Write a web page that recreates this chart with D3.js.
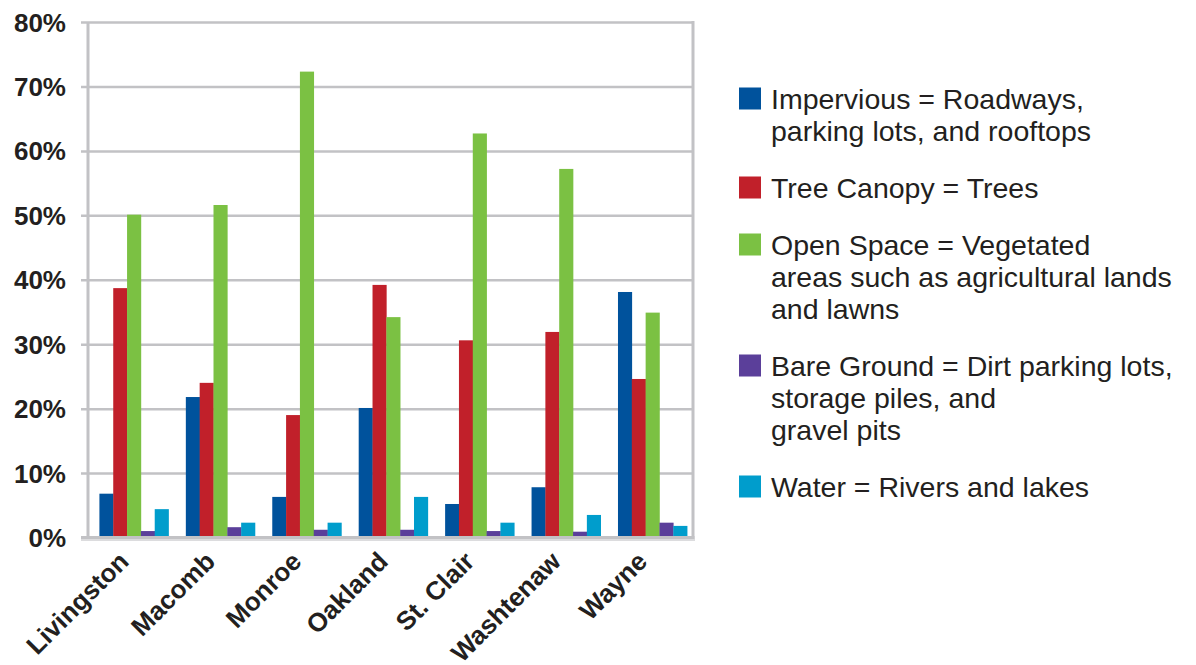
<!DOCTYPE html>
<html>
<head>
<meta charset="utf-8">
<script src="https://cdn.jsdelivr.net/npm/d3@7/dist/d3.min.js"></script>
<style>
  html, body { margin: 0; padding: 0; background: #fff; }
  svg { display: block; }
  text { font-family: "Liberation Sans", Arial, sans-serif; fill: #231f20; }
</style>
</head>
<body>
<svg id="chart" width="1196" height="665"></svg>
<script>
// Land cover share by county (fraction of county area)
const counties = ["Livingston", "Macomb", "Monroe", "Oakland", "St. Clair", "Washtenaw", "Wayne"];
const seriesKeys = ["impervious", "treeCanopy", "openSpace", "bareGround", "water"];
const impervious = [0.068, 0.218, 0.063, 0.201, 0.052, 0.078, 0.381];
const treeCanopy = [0.387, 0.240, 0.190, 0.392, 0.306, 0.319, 0.246];
const openSpace  = [0.501, 0.516, 0.723, 0.342, 0.627, 0.572, 0.349];
const bareGround = [0.010, 0.016, 0.012, 0.012, 0.010, 0.009, 0.023];
const water      = [0.044, 0.023, 0.023, 0.063, 0.023, 0.035, 0.018];
const yTicks = [0, 0.1, 0.2, 0.3, 0.4, 0.5, 0.6, 0.7, 0.8];
const legendLines = [
  ["Impervious = Roadways,", "parking lots, and rooftops"],
  ["Tree Canopy = Trees"],
  ["Open Space = Vegetated", "areas such as agricultural lands", "and lawns"],
  ["Bare Ground = Dirt parking lots,", "storage piles, and", "gravel pits"],
  ["Water = Rivers and lakes"]
];
const seriesColors = ["#00529c", "#c1202a", "#7bc143", "#5b3f9a", "#009dcc"];

const valuesByKey = { impervious, treeCanopy, openSpace, bareGround, water };
const rows = counties.map((c, i) => ({
  county: c,
  values: seriesKeys.map(k => ({ key: k, value: valuesByKey[k][i] }))
}));

const svg = d3.select("#chart");
const plot = { left: 88, right: 693, top: 22, bottom: 537.5 };
const gridColor = "#c2c2c5";

const y = d3.scaleLinear().domain([0, 0.8]).range([plot.bottom, plot.top]);
const x0 = d3.scaleBand().domain(counties).range([plot.left, plot.right])
  .paddingInner(0.2).paddingOuter(0.1).align(0.66);
const x1 = d3.scaleBand().domain(seriesKeys).range([0, x0.bandwidth()]);
const xLabel = d3.scalePoint().domain(counties).range([plot.left, plot.right]).padding(0.5);
const color = d3.scaleOrdinal().domain(seriesKeys).range(seriesColors);

// Horizontal gridlines with short ticks to the left of the axis
const yAxis = d3.axisLeft(y).tickValues(yTicks)
  .tickSize(-(plot.right - plot.left)).tickFormat(d3.format(".0%")).tickPadding(22);
const gy = svg.append("g").attr("transform", `translate(${plot.left},0)`).call(yAxis);
gy.select(".domain").remove();
gy.selectAll(".tick line")
  .attr("x1", -7)
  .attr("stroke", gridColor).attr("stroke-width", 2.5);
gy.selectAll(".tick text")
  .attr("font-size", 26).attr("font-weight", "bold")
  .attr("fill", "#231f20").attr("dy", "0.35em");

// Plot frame (left and right sides, bottom axis with a soft shadow)
svg.append("line").attr("x1", plot.left).attr("x2", plot.left)
  .attr("y1", plot.top).attr("y2", plot.bottom + 2)
  .attr("stroke", gridColor).attr("stroke-width", 3);
svg.append("line").attr("x1", plot.right).attr("x2", plot.right)
  .attr("y1", plot.top - 1).attr("y2", plot.bottom + 2)
  .attr("stroke", gridColor).attr("stroke-width", 3);
svg.append("line").attr("x1", plot.left - 7).attr("x2", plot.right + 2)
  .attr("y1", plot.bottom + 2.5).attr("y2", plot.bottom + 2.5)
  .attr("stroke", "#dcdcde").attr("stroke-width", 2);

// Bars
const groups = svg.append("g").selectAll("g")
  .data(rows).join("g")
  .attr("transform", d => `translate(${x0(d.county)},0)`);
groups.selectAll("rect")
  .data(d => d.values).join("rect")
  .attr("x", d => x1(d.key))
  .attr("width", x1.bandwidth() + 0.3)
  .attr("y", d => y(d.value))
  .attr("height", d => y(0) - y(d.value))
  .attr("fill", d => color(d.key));

// Bottom axis line drawn over the bar bases
svg.append("line").attr("x1", plot.left - 7).attr("x2", plot.right + 1.5)
  .attr("y1", plot.bottom).attr("y2", plot.bottom)
  .attr("stroke", gridColor).attr("stroke-width", 3);

// Rotated county labels
svg.append("g").selectAll("text")
  .data(counties).join("text")
  .attr("transform", d => `translate(${xLabel(d) - 1},563) rotate(-45)`)
  .attr("text-anchor", "end")
  .attr("font-size", 26).attr("font-weight", "bold")
  .text(d => d);

// Legend
const legend = svg.append("g");
let baseline = 108.5;
legendLines.forEach((lines, i) => {
  legend.append("rect")
    .attr("x", 739).attr("y", baseline - 21)
    .attr("width", 22).attr("height", 22)
    .attr("fill", seriesColors[i]);
  const t = legend.append("text")
    .attr("x", 771).attr("y", baseline)
    .attr("font-size", 28.5);
  lines.forEach((line, j) => {
    t.append("tspan").attr("x", 771).attr("y", baseline + j * 32).text(line);
  });
  baseline += (lines.length - 1) * 32 + 57;
});
</script>
</body>
</html>
